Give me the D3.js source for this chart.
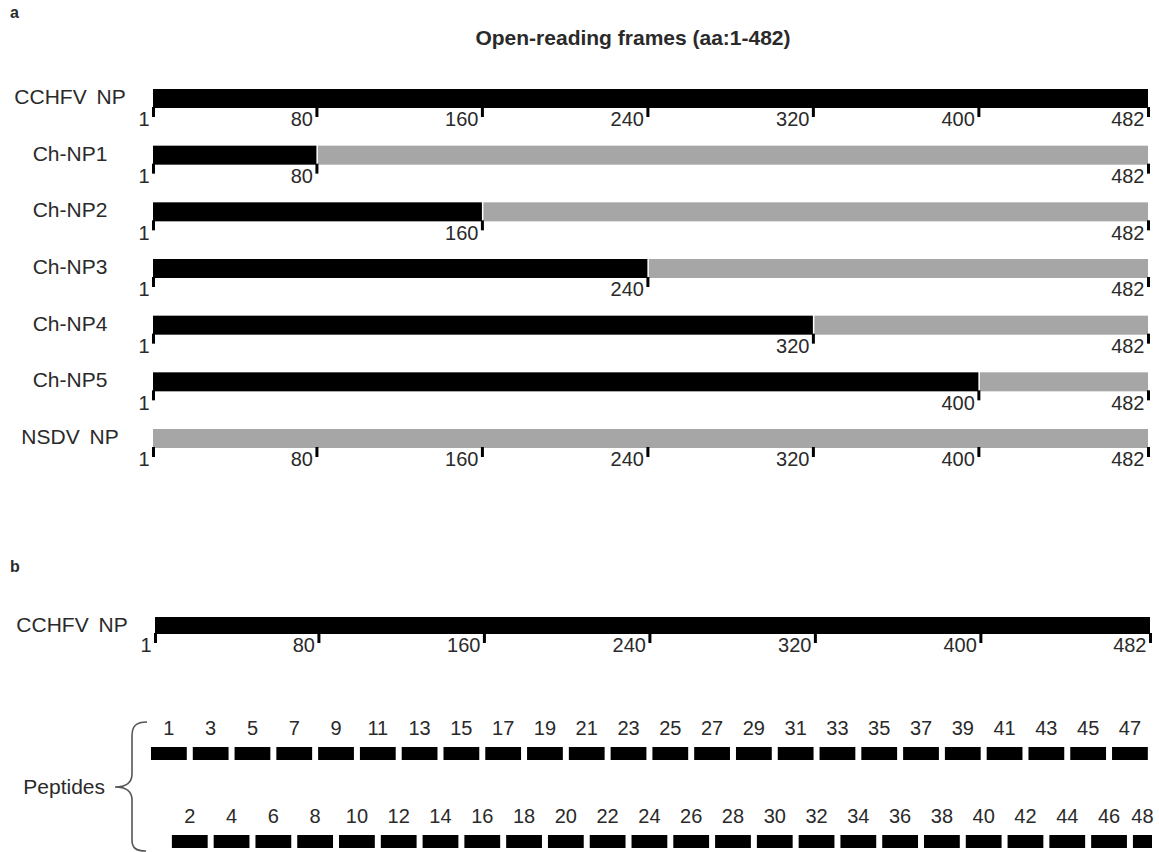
<!DOCTYPE html>
<html>
<head>
<meta charset="utf-8">
<script src="https://cdn.jsdelivr.net/npm/d3@7"></script>
<style>
  html, body { margin: 0; padding: 0; background: #fff; }
  svg { display: block; font-family: Arial, "Liberation Sans", sans-serif; }
</style>
</head>
<body>
<svg id="chart" width="1159" height="852"></svg>
<script>
// Constructs (panel a)
const constructs = ["CCHFV NP", "Ch-NP1", "Ch-NP2", "Ch-NP3", "Ch-NP4", "Ch-NP5", "NSDV NP"];
// last CCHFV residue in each construct (0 = fully NSDV)
const cchfvEnd = [482, 80, 160, 240, 320, 400, 0];
const orfLength = 482;
// positions marked under each construct
const constructTicks = [
  [1, 80, 160, 240, 320, 400, 482],
  [1, 80, 482],
  [1, 160, 482],
  [1, 240, 482],
  [1, 320, 482],
  [1, 400, 482],
  [1, 80, 160, 240, 320, 400, 482]
];
const npTicks = [1, 80, 160, 240, 320, 400, 482];

// Overlapping peptides (panel b)
const peptideIds = [1,2,3,4,5,6,7,8,9,10,11,12,13,14,15,16,17,18,19,20,21,22,23,24,
  25,26,27,28,29,30,31,32,33,34,35,36,37,38,39,40,41,42,43,44,45,46,47,48];
const peptideStart = [1,11,21,31,41,51,61,71,81,91,101,111,121,131,141,151,161,171,181,191,
  201,211,221,231,241,251,261,271,281,291,301,311,321,331,341,351,361,371,381,391,
  401,411,421,431,441,451,461,471];
const peptideEnd = [20,30,40,50,60,70,80,90,100,110,120,130,140,150,160,170,180,190,200,210,
  220,230,240,250,260,270,280,290,300,310,320,330,340,350,360,370,380,390,400,410,
  420,430,440,450,460,470,480,482];

const BLACK = "#000";
const GREY = "#a6a6a6";
const TEXT = "#2a2a2a";

const svg = d3.select("#chart");

// panel letters
svg.append("text").attr("x", 10).attr("y", 18).attr("font-size", 16).attr("font-weight", "bold")
  .attr("fill", TEXT).text("a");
svg.append("text").attr("x", 10).attr("y", 572).attr("font-size", 16).attr("font-weight", "bold")
  .attr("fill", TEXT).text("b");

// title
svg.append("text").attr("x", 633).attr("y", 45).attr("text-anchor", "middle")
  .attr("font-size", 21).attr("font-weight", "bold").attr("fill", TEXT)
  .text("Open-reading frames (aa:1-482)");

// ---- panel a ----
const x = d3.scaleLinear().domain([1, orfLength]).range([153, 1148]);
const rowY = d3.scalePoint().domain(constructs).range([89, 429]);
const barH = 19;

function styleAxis(g, size) {
  g.select(".domain").remove();
  g.selectAll(".tick line").attr("stroke", BLACK).attr("stroke-width", 3);
  g.selectAll(".tick text")
    .attr("text-anchor", "end")
    .attr("x", -4)
    .attr("y", 5)
    .attr("dy", "0.71em")
    .attr("fill", TEXT)
    .attr("font-size", size);
}

const rows = svg.append("g").selectAll("g").data(constructs).join("g")
  .attr("transform", d => `translate(0,${rowY(d)})`);

rows.each(function (name, i) {
  const g = d3.select(this);
  const end = cchfvEnd[i];
  // NSDV portion
  if (end < orfLength) {
    const start = end > 0 ? end : 1;
    g.append("rect")
      .attr("x", end > 0 ? x(start) + 1.5 : x(start))
      .attr("y", 0)
      .attr("width", x(orfLength) - (end > 0 ? x(start) + 1.5 : x(start)))
      .attr("height", barH)
      .attr("fill", GREY);
  }
  // CCHFV portion
  if (end > 0) {
    g.append("rect")
      .attr("x", x(1)).attr("y", 0)
      .attr("width", x(end) - x(1)).attr("height", barH)
      .attr("fill", BLACK);
  }
  // label
  g.append("text")
    .attr("x", 70).attr("y", 15)
    .attr("text-anchor", "middle")
    .attr("font-size", 21)
    .attr("word-spacing", 4)
    .attr("fill", TEXT)
    .text(name);
  // position ticks
  g.append("g")
    .attr("transform", `translate(0,${barH - 1})`)
    .call(d3.axisBottom(x).tickValues(constructTicks[i]).tickSize(10).tickFormat(d3.format("d")))
    .call(a => styleAxis(a, 20));
});

// ---- panel b ----
const xb = d3.scaleLinear().domain([1, orfLength]).range([155, 1150]);
const npTop = 617, npH = 17;

svg.append("rect")
  .attr("x", xb(1)).attr("y", npTop)
  .attr("width", xb(orfLength) - xb(1)).attr("height", npH)
  .attr("fill", BLACK);

svg.append("text")
  .attr("x", 72).attr("y", npTop + 15)
  .attr("text-anchor", "middle")
  .attr("font-size", 21)
  .attr("word-spacing", 4)
  .attr("fill", TEXT)
  .text("CCHFV NP");

svg.append("g")
  .attr("transform", `translate(0,${npTop + npH - 1})`)
  .call(d3.axisBottom(xb).tickValues(npTicks).tickSize(10).tickFormat(d3.format("d")))
  .call(a => styleAxis(a, 20));

// peptide track
const xp = d3.scaleLinear().domain([1, orfLength + 1]).range([151, 1158]);
const pepGap = 6, pepH = 13;
const peptides = peptideIds.map((id, i) => ({ id, start: peptideStart[i], end: peptideEnd[i] }));
const laneTop = id => (id % 2 === 1 ? 747 : 835);

const pep = svg.append("g").selectAll("g").data(peptides).join("g");
pep.append("rect")
  .attr("x", d => xp(d.start))
  .attr("y", d => laneTop(d.id))
  .attr("width", d => xp(d.end + 1) - xp(d.start) - pepGap)
  .attr("height", pepH)
  .attr("fill", BLACK);
pep.append("text")
  .attr("x", d => (xp(d.start) + xp(d.end + 1) - pepGap) / 2)
  .attr("y", d => laneTop(d.id) - 12)
  .attr("text-anchor", "middle")
  .attr("font-size", 20)
  .attr("fill", TEXT)
  .text(d => d.id);

// brace grouping the two peptide lanes
svg.append("path")
  .attr("d", "M147,722 C136,722 132,726 132,736 L132,774 C132,783 126,787 115,787 C126,787 132,791 132,800 L132,840 C132,848 136,851 146,851")
  .attr("fill", "none")
  .attr("stroke", "#555")
  .attr("stroke-width", 1.6);

svg.append("text")
  .attr("x", 105).attr("y", 794)
  .attr("text-anchor", "end")
  .attr("font-size", 21)
  .attr("fill", TEXT)
  .text("Peptides");
</script>
</body>
</html>
